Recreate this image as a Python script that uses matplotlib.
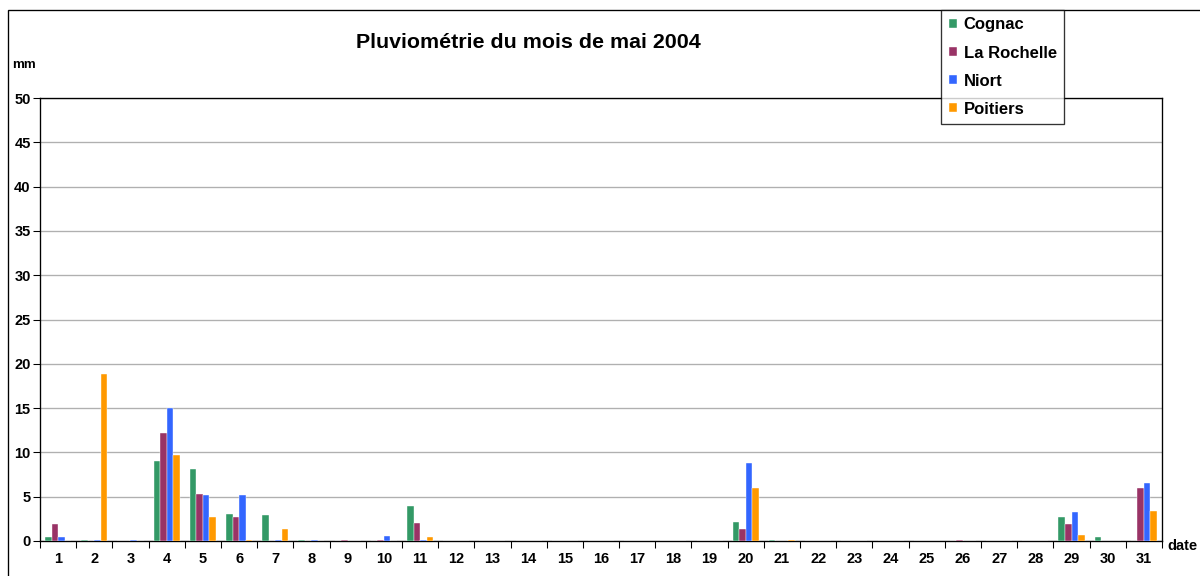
import matplotlib
matplotlib.use("Agg")
import matplotlib.pyplot as plt
import numpy as np
from matplotlib.patches import Rectangle

days = list(range(1, 32))
cognac =    [0.4, 0.1, 0, 9.0, 8.1, 3.1, 2.9, 0.1, 0, 0, 3.9, 0, 0, 0, 0, 0, 0, 0, 0, 2.1, 0.1, 0, 0, 0, 0, 0, 0, 0, 2.7, 0.5, 0]
rochelle =  [1.9, 0, 0, 12.2, 5.3, 2.7, 0, 0, 0.1, 0.1, 2.0, 0, 0, 0, 0, 0, 0, 0, 0, 1.4, 0, 0, 0, 0, 0, 0.1, 0, 0, 1.9, 0, 6.0]
niort =     [0.4, 0.1, 0.1, 15.0, 5.2, 5.2, 0.1, 0.1, 0, 0.6, 0.1, 0, 0, 0, 0, 0, 0, 0, 0, 8.8, 0, 0, 0, 0, 0, 0, 0, 0, 3.3, 0, 6.6]
poitiers =  [0, 18.9, 0, 9.7, 2.7, 0.1, 1.3, 0, 0, 0, 0.4, 0, 0, 0, 0, 0, 0, 0, 0, 6.0, 0.1, 0, 0, 0, 0, 0, 0, 0, 0.7, 0, 3.4]
series_names = ["Cognac", "La Rochelle", "Niort", "Poitiers"]
colors = ["#339966", "#993366", "#3366FF", "#FF9900"]
yticks = [0, 5, 10, 15, 20, 25, 30, 35, 40, 45, 50]

plt.rcParams['font.family'] = ['Liberation Sans', 'DejaVu Sans']

fig = plt.figure(figsize=(12.5, 6), dpi=96)
ax = fig.add_axes([40/1200, 35/576, 1122/1200, 443/576])

x = np.array(days, dtype=float)
w = 0.18
offsets = [-1.5*w, -0.5*w, 0.5*w, 1.5*w]
handles = []
for data, name, col, off in zip([cognac, rochelle, niort, poitiers], series_names, colors, offsets):
    h = ax.bar(x + off, data, width=w, color=col, edgecolor='white', linewidth=0.3, label=name, zorder=3)
    handles.append(h)

ax.set_xlim(0.5, 31.5)
ax.set_ylim(0, 50)
ax.set_yticks(yticks)
ax.set_yticklabels([str(v) for v in yticks], fontsize=11, fontweight='bold')
ax.yaxis.grid(True, color='#b0b0b0', linewidth=1, zorder=0)
ax.set_axisbelow(True)

ax.set_xticks(np.arange(0.5, 32, 1))
ax.set_xticklabels([])
ax.set_xticks(x, minor=True)
ax.set_xticklabels([str(d) for d in days], minor=True, fontsize=11, fontweight='bold')
ax.tick_params(axis='x', which='major', direction='out', length=5, color='black')
ax.tick_params(axis='x', which='minor', length=0, pad=8)
ax.tick_params(axis='y', direction='out', length=5, pad=2)
for s in ax.spines.values():
    s.set_color('black')
    s.set_linewidth(1)

fig.text(528/1200, 1 - 43/576, "Pluviométrie du mois de mai 2004", ha='center', va='center',
         fontsize=16, fontweight='bold')
fig.text(12/1200, 1 - 65/576, "mm", ha='left', va='center', fontsize=10, fontweight='bold')
fig.text(1167/1200, 1 - 546/576, "date", ha='left', va='center', fontsize=11, fontweight='bold')

# outer chart frame
fig.patches.append(Rectangle((8/1200, -0.1), 1.2, 1 - 10/576 + 0.1, transform=fig.transFigure,
                             fill=False, edgecolor='black', linewidth=1, zorder=0))

leg = fig.legend(handles=handles, labels=series_names, loc='upper left',
                 bbox_to_anchor=(941/1200, 1 - 10/576), frameon=True, fancybox=False,
                 prop={'weight': 'bold', 'size': 12.5}, handlelength=0.5, handleheight=0.5,
                 handletextpad=0.4, labelspacing=0.78, borderpad=0.45, borderaxespad=0)
leg.get_frame().set_edgecolor('black')
leg.get_frame().set_linewidth(1)

fig.savefig("out.png", dpi=96)
